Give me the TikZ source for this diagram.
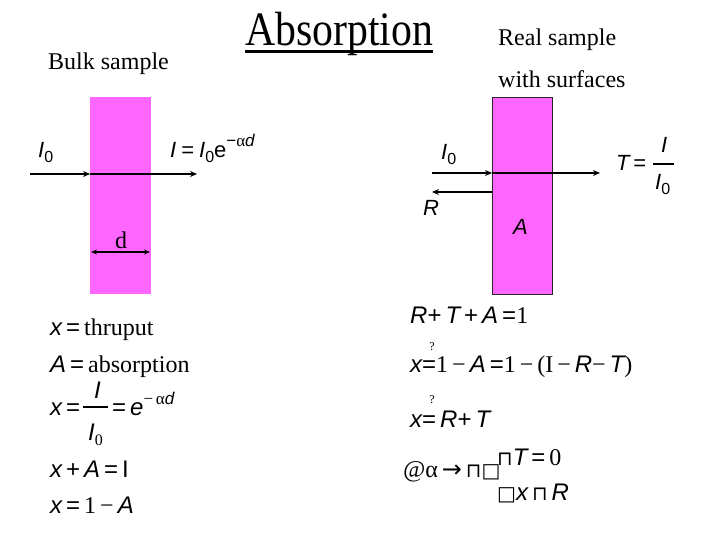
\documentclass[tikz,border=0pt]{standalone}
\usepackage{fontspec}
\setmainfont{Liberation Serif}
\newfontfamily\sansf{Liberation Sans}
\newfontfamily\djv{DejaVu Sans}
\usetikzlibrary{arrows.meta}
\definecolor{slabpink}{RGB}{255,102,255}
\newcommand\vi[1]{{\sansf\itshape #1}}
\newcommand\su[1]{{\sansf #1}}
\newcommand\sbs[1]{\raisebox{-5pt}{\fontsize{16}{16}\selectfont #1}}
\newcommand\sps[1]{\raisebox{11pt}{\fontsize{17}{17}\selectfont #1}}
\newcommand\bx[1]{{\djv\fontsize{20}{20}\selectfont #1}}
\tikzset{
  txt/.style={anchor=base west, inner sep=0pt, font=\fontsize{24}{28}\selectfont},
  lab/.style={anchor=base west, inner sep=0pt, font=\fontsize{22}{26}\selectfont},
  qm/.style={anchor=base, inner sep=0pt, font=\fontsize{12}{12}\selectfont},
  slab/.style={fill=slabpink, inner sep=0pt, minimum width=61pt, minimum height=197pt},
  ray/.style={line width=1.5pt, -{Stealth[length=7pt,width=6pt]}},
  dim/.style={line width=1.5pt, {Stealth[length=6pt,width=5pt]}-{Stealth[length=6pt,width=5pt]}},
  bar/.style={line width=1.1pt}
}
\begin{document}
\begin{tikzpicture}[x=1pt,y=-1pt]
\useasboundingbox (0,0) rectangle (720,540);
\fill[white] (0,0) rectangle (720,540);
% title
\node[anchor=base west, inner sep=0pt] (title) at (245,46) {\scalebox{0.87}[1]{\fontsize{48}{48}\selectfont Absorption}};
\draw[line width=3pt] ([yshift=-6pt]title.base west) -- ([yshift=-6pt]title.base east);
\node[txt] (bulk) at (48,70) {Bulk sample};
\node[txt] (real) at (498,46) {Real sample};
\node[txt] (surf) at (498,88) {with surfaces};
% slabs
\node[slab] (slabL) at (120.5,195.5) {};
\node[slab, minimum width=60pt, draw=black!85, line width=0.8pt] (slabR) at (522,195.5) {};
% left rays
\coordinate (inL) at (30,174);
\coordinate (outL) at (197,174);
\coordinate (hitL) at (90,174);
\draw[ray] (inL) -- (hitL);
\draw[ray] (hitL) -- (outL);
\coordinate (dA) at (91,252);
\coordinate (dB) at (150,252);
\draw[dim] (dA) -- (dB);
\node[txt] (dlab) at (115,248) {d};
\node[lab] (I0L) at (38,158) {\vi{I}\sbs{\sansf 0}};
\node[lab] (eqL) at (170,158) {\vi{I}\hspace{5pt}\su{=}\hspace{5pt}\vi{I}\sbs{\sansf 0}\su{e}\sps{\su{−}α\vi{d}}};
% right rays
\coordinate (inR) at (432,173);
\coordinate (hitR) at (492,173);
\coordinate (outR) at (600,173);
\coordinate (refA) at (492,192);
\coordinate (refB) at (432,192);
\draw[ray] (inR) -- (hitR);
\draw[ray] (hitR) -- (outR);
\draw[ray] (refA) -- (refB);
\node[lab] (I0R) at (441,160) {\vi{I}\sbs{\sansf 0}};
\node[lab] (Rlab) at (423,215) {\vi{R}};
\node[lab] (Alab) at (513,235) {\vi{A}};
\node[lab] (Teq) at (616,171) {\vi{T}\,\su{=}};
\node[lab] (Tnum) at (661,153) {\vi{I}};
\node[lab] (Tden) at (655,190) {\vi{I}\sbs{\sansf 0}};
\coordinate (TbA) at (653,164);
\coordinate (TbB) at (674,164);
\draw[bar] (TbA) -- (TbB);
% left equations
\node[txt] (L1) at (50,335) {\vi{x}\,\su{=}\,thruput};
\node[txt] (L2) at (50,372) {\vi{A}\,\su{=}\,absorption};
\node[txt] (L3) at (50,415) {\vi{x}\,\su{=}};
\node[txt] (L3n) at (94,398) {\vi{I}};
\node[txt] (L3d) at (88,440) {\vi{I}\sbs{0}};
\coordinate (L3bA) at (83,407);
\coordinate (L3bB) at (108,407);
\draw[bar] (L3bA) -- (L3bB);
\node[txt] (L3r) at (112,415) {\su{=}\,\vi{e}\sps{−\,α\vi{d}}};
\node[txt] (L4) at (50,477) {\vi{x}\,\su{+}\,\vi{A}\,\su{=}\,\su{I}};
\node[txt] (L5) at (50,513) {\vi{x}\,\su{=}\,1\,−\,\vi{A}};
% right equations
\node[txt] (R1) at (410,323) {\vi{R}\su{+}\,\vi{T}\,\su{+}\,\vi{A}\,\su{=}1};
\node[qm] (q1) at (432,350) {?};
\node[txt] (R2) at (410,372) {\vi{x}\su{=}1\,−\,\vi{A}\,\su{=}1\,−\,(I\,−\,\vi{R}−\,\vi{T})};
\node[qm] (q2) at (432,403) {?};
\node[txt] (R3) at (410,427) {\vi{x}\su{=}\,\vi{R}\su{+}\,\vi{T}};
\node[txt] (R4) at (403,477) {\textit{@}α\,{\djv →\,}\bx{⊓}\bx{□}};
\node[txt] (R5) at (497,465) {\bx{⊓}\vi{T}\,\su{=}\,0};
\node[txt] (R6) at (497,500) {\bx{□}\vi{x}\,\bx{⊓}\,\vi{R}};
\end{tikzpicture}
\end{document}
